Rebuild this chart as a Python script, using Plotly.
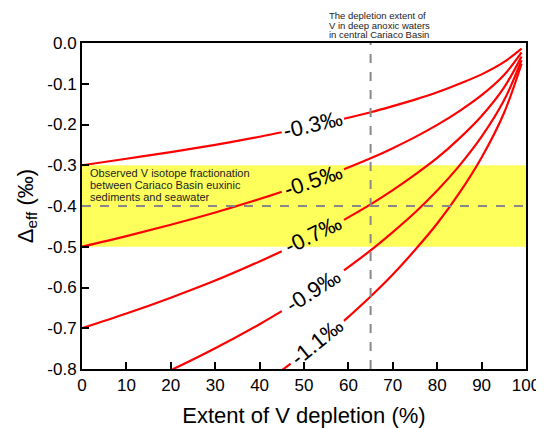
import plotly.graph_objects as go

# Extent of V depletion (%) — the curves are interrupted where their labels sit (None = gap)
depletion = [0, 10, 20, 30, 40, 45, None, 59, 65, 70, 75, 80, 85, 90, 95, 99]
depletion_11 = [0, 10, 20, 30, 40, 47, None, 59, 65, 70, 75, 80, 85, 90, 95, 99]

# Δeff (‰) curves for each fractionation factor
eps_03 = [-0.300, -0.284, -0.268, -0.250, -0.230, -0.219, None, -0.186, -0.170, -0.155, -0.139, -0.121, -0.100, -0.077, -0.047, -0.014]
eps_05 = [-0.500, -0.474, -0.446, -0.416, -0.383, -0.365, None, -0.310, -0.283, -0.258, -0.231, -0.201, -0.167, -0.128, -0.079, -0.023]
eps_07 = [-0.700, -0.664, -0.625, -0.583, -0.536, -0.511, None, -0.434, -0.396, -0.361, -0.323, -0.282, -0.234, -0.179, -0.110, -0.033]
eps_09 = [-0.900, -0.853, -0.803, -0.749, -0.690, -0.658, None, -0.558, -0.509, -0.464, -0.416, -0.362, -0.301, -0.230, -0.142, -0.042]
eps_11 = [-1.100, -1.043, -0.982, -0.915, -0.843, -0.787, None, -0.682, -0.622, -0.568, -0.508, -0.443, -0.368, -0.281, -0.173, -0.051]

series = [(depletion, eps_03), (depletion, eps_05), (depletion, eps_07),
          (depletion, eps_09), (depletion_11, eps_11)]
curve_labels = ["-0.3‰", "-0.5‰", "-0.7‰", "-0.9‰", "-1.1‰"]
label_x = [52, 52, 52, 52, 53]
label_y = [-0.201, -0.337, -0.470, -0.607, -0.733]
label_angle = [-13, -19, -26, -33, -39]

x_ticks = [0, 10, 20, 30, 40, 50, 60, 70, 80, 90, 100]
y_ticks = [-0.8, -0.7, -0.6, -0.5, -0.4, -0.3, -0.2, -0.1, 0.0]
y_tick_text = ["-0.8", "-0.7", "-0.6", "-0.5", "-0.4", "-0.3", "-0.2", "-0.1", "0.0"]

observed_band = [-0.5, -0.3]
observed_mean = -0.4
cariaco_depletion = 65

band_note = ["Observed V isotope fractionation", "between Cariaco Basin euxinic", "sediments and seawater"]
band_note_y = [-0.319, -0.348, -0.377]
top_note = ["The depletion extent of", "V in deep anoxic waters", "in central Cariaco Basin"]
top_note_y = [1.083, 1.055, 1.027]

FONT = "Liberation Sans, Arial, sans-serif"
YELLOW = "#FFFF5C"

fig = go.Figure()

# yellow band
fig.add_shape(type="rect", xref="x", yref="y", x0=0, x1=100,
              y0=observed_band[0], y1=observed_band[1],
              fillcolor=YELLOW, line=dict(width=0), layer="below")

# dashed reference lines
fig.add_shape(type="line", xref="x", yref="y", x0=0, x1=100,
              y0=observed_mean, y1=observed_mean,
              line=dict(color="#888888", width=2, dash="dash"))
fig.add_shape(type="line", xref="x", yref="y", x0=cariaco_depletion, x1=cariaco_depletion,
              y0=-0.8, y1=0.0,
              line=dict(color="#888888", width=2, dash="dash"))

for xs, ys in series:
    fig.add_trace(go.Scatter(x=xs, y=ys, mode="lines", connectgaps=False,
                             line=dict(color="#FF0000", width=2.2, shape="spline"),
                             showlegend=False, hoverinfo="skip"))

for txt, lx, ly, ang in zip(curve_labels, label_x, label_y, label_angle):
    fig.add_annotation(x=lx, y=ly, xref="x", yref="y", text=txt, showarrow=False,
                       textangle=ang, borderpad=0,
                       font=dict(family=FONT, size=22, color="black"))

for txt, ty in zip(band_note, band_note_y):
    fig.add_annotation(x=1.3, y=ty, xref="x", yref="y", xanchor="left", yanchor="middle",
                       showarrow=False, text=txt,
                       font=dict(family=FONT, size=11, color="#222222"))

for txt, ty in zip(top_note, top_note_y):
    fig.add_annotation(x=55.2, y=ty, xref="x", yref="paper", xanchor="left", yanchor="middle",
                       showarrow=False, text=txt,
                       font=dict(family=FONT, size=9.5, color="#222222"))

# page body has an 8px default margin, so the figure is 8px smaller than the window
fig.update_layout(
    width=536, height=420,
    margin=dict(l=74, r=18, t=35, b=59),
    plot_bgcolor="white", paper_bgcolor="white",
    font=dict(family=FONT, color="black"),
    xaxis=dict(range=[0, 100], tickvals=x_ticks, automargin=False,
               ticks="inside", ticklen=7, tickwidth=2, tickcolor="black",
               showgrid=False, zeroline=False,
               showline=True, linecolor="black", linewidth=2, mirror=True,
               tickfont=dict(size=17, family=FONT),
               title=dict(text="Extent of V depletion (%)", font=dict(size=22, family=FONT), standoff=15)),
    yaxis=dict(range=[-0.8, 0.0], tickvals=y_ticks, ticktext=y_tick_text, automargin=False,
               ticks="inside", ticklen=7, tickwidth=2, tickcolor="black",
               showgrid=False, zeroline=False,
               showline=True, linecolor="black", linewidth=2, mirror=True,
               tickfont=dict(size=17, family=FONT),
               title=dict(text="Δ<sub>eff</sub> (‰)", font=dict(size=22, family=FONT), standoff=8)),
)

fig.write_html("out.html")
